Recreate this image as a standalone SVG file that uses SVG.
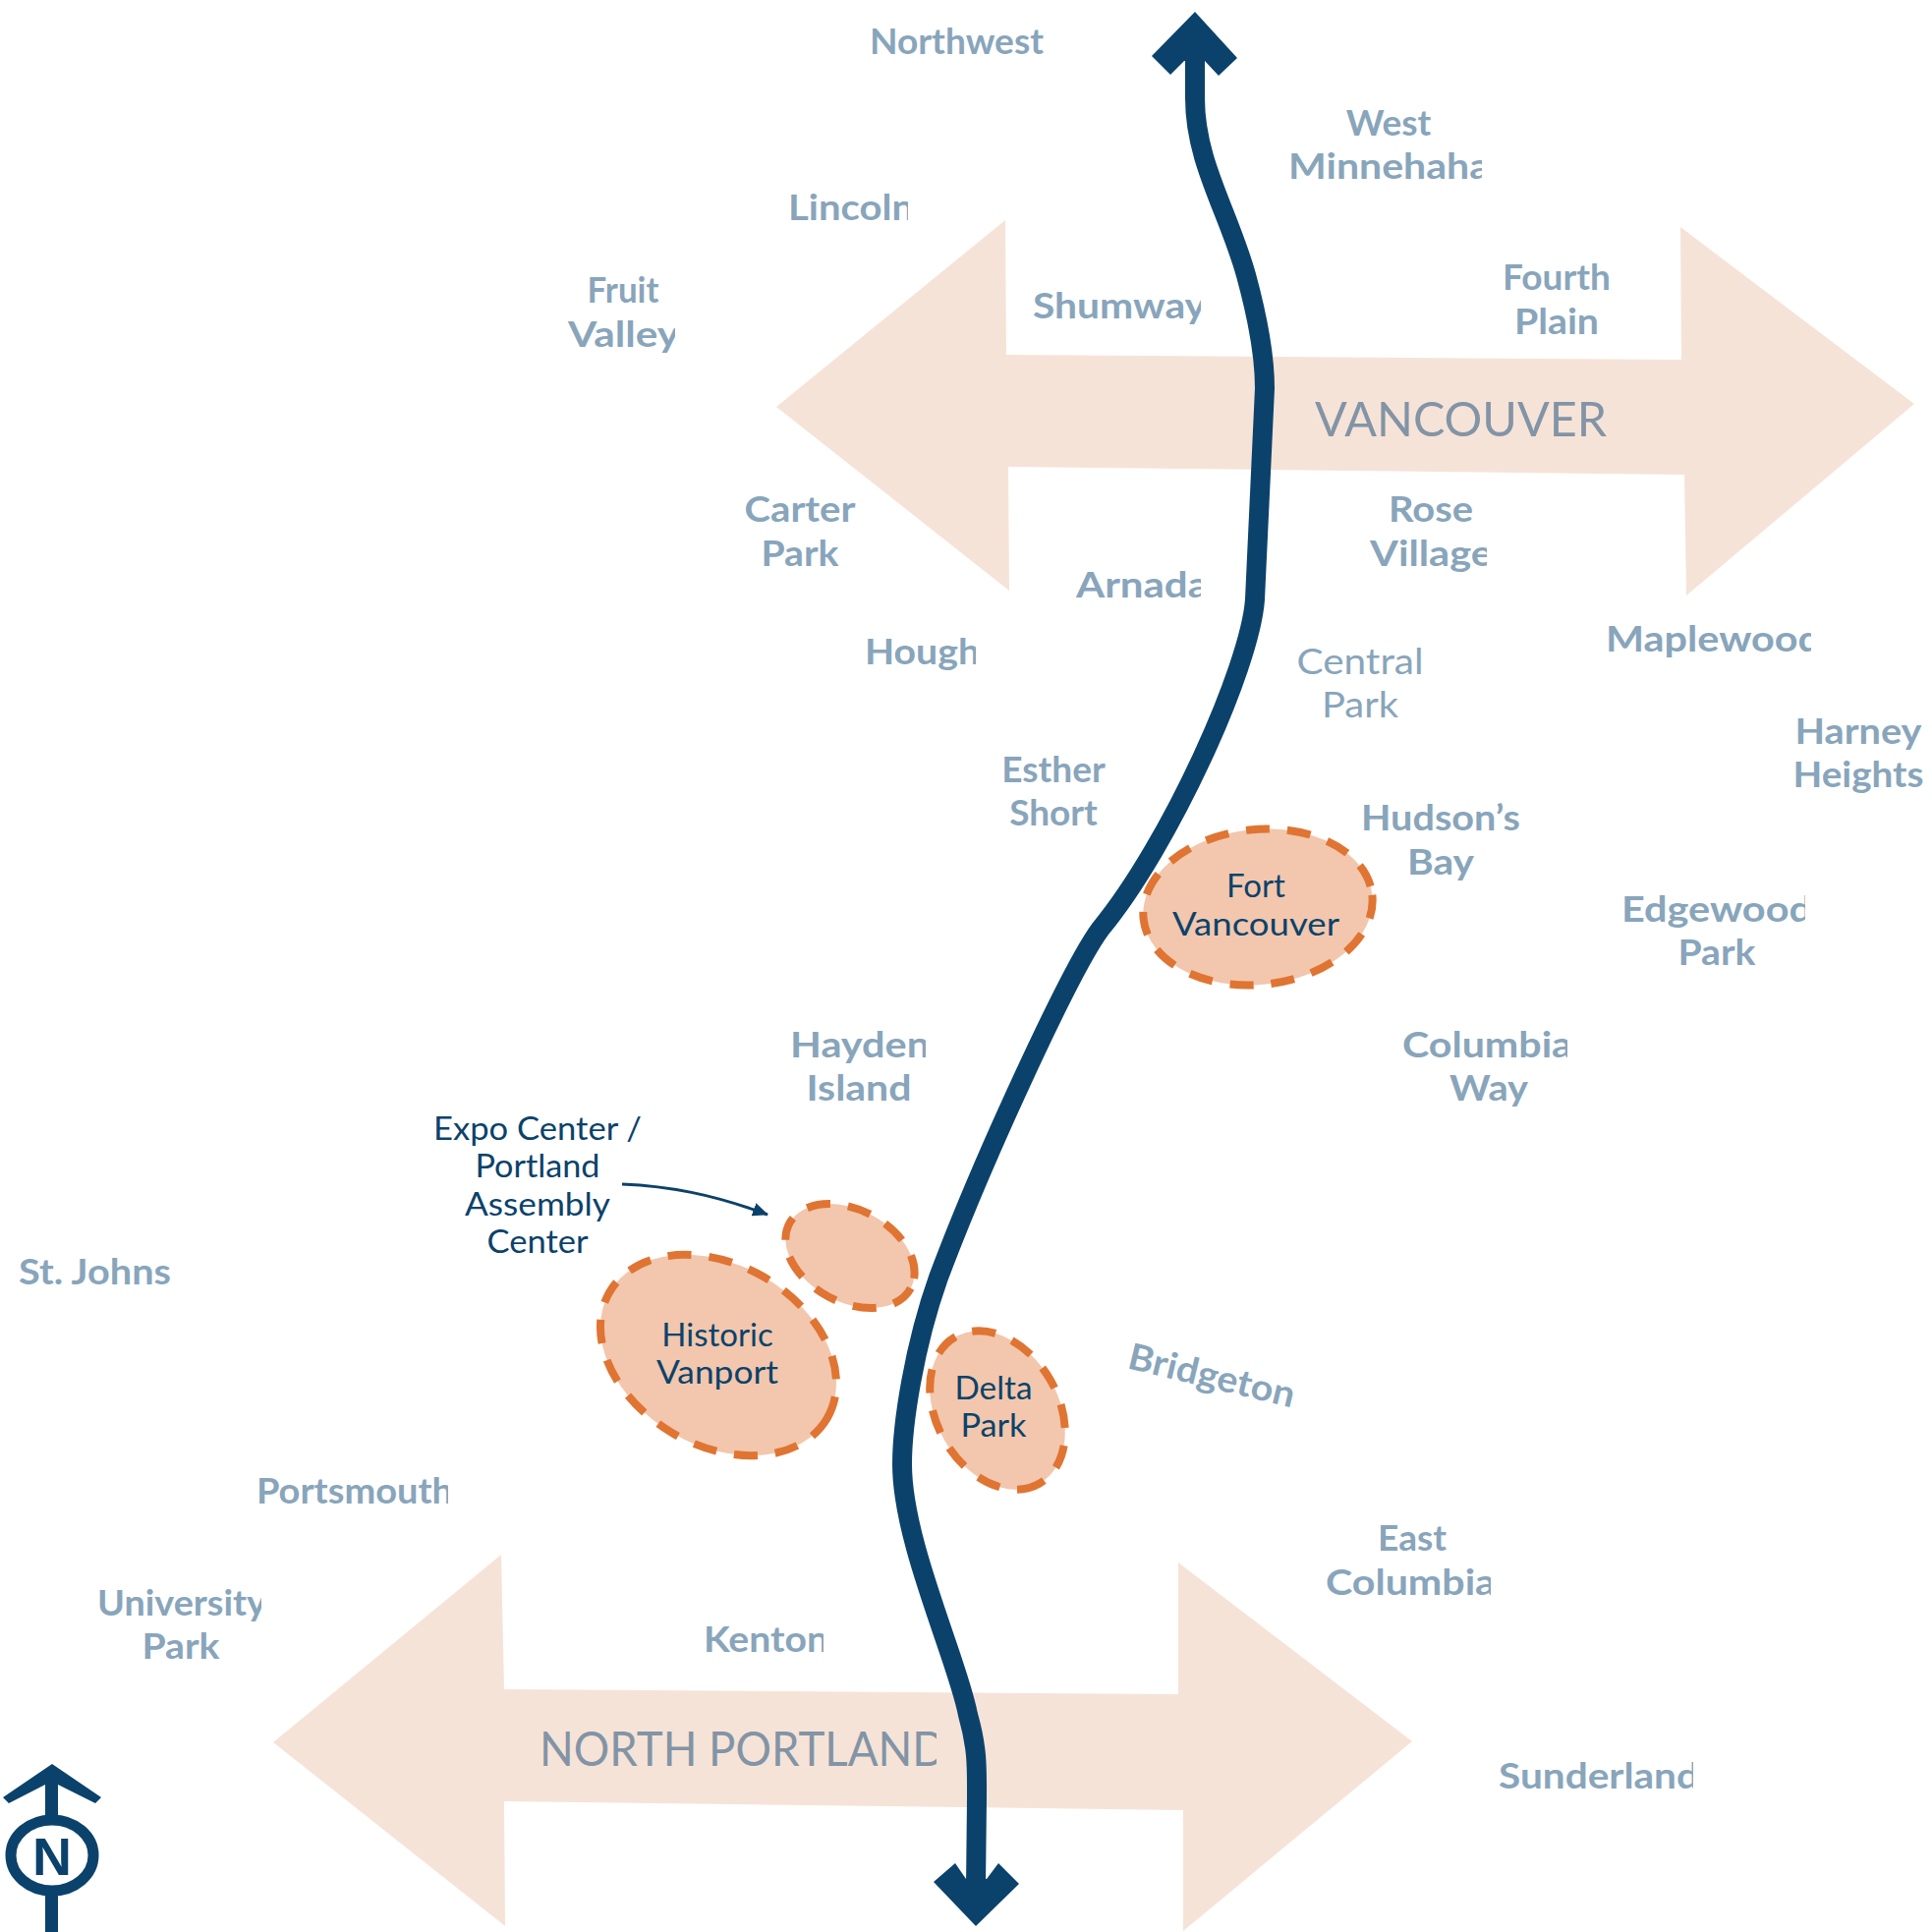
<svg xmlns="http://www.w3.org/2000/svg" width="1966" height="1966" viewBox="0 0 1966 1966">
<defs>
<style>
text{font-family:"Lato","Liberation Sans",sans-serif}
.n{font-size:37px;font-weight:700;fill:#88a5bb}
.m{text-anchor:middle}
.b{font-size:33px;font-weight:400;fill:#0b426b;text-anchor:middle}
.r{font-size:48px;font-weight:400;fill:#8294a5}
.a{fill:#f6e3d8}
.s{fill:#f2c7ad;stroke:#e07432;stroke-width:8;stroke-dasharray:24 18}
.d{fill:#0b426b}
</style>
<clipPath id="c1"><rect x="1300" y="140" width="208" height="60"/></clipPath>
<clipPath id="c2"><rect x="795" y="180" width="129" height="60"/></clipPath>
<clipPath id="c3"><rect x="570" y="320" width="117" height="50"/></clipPath>
<clipPath id="c4"><rect x="1045" y="285" width="177" height="60"/></clipPath>
<clipPath id="c5"><rect x="1390" y="545" width="123" height="50"/></clipPath>
<clipPath id="c6"><rect x="1090" y="570" width="132" height="50"/></clipPath>
<clipPath id="c7"><rect x="875" y="640" width="118" height="50"/></clipPath>
<clipPath id="c8"><rect x="1630" y="625" width="213" height="50"/></clipPath>
<clipPath id="c9"><rect x="1645" y="900" width="192" height="50"/></clipPath>
<clipPath id="c10"><rect x="800" y="1040" width="142" height="50"/></clipPath>
<clipPath id="c11"><rect x="1420" y="1040" width="175" height="50"/></clipPath>
<clipPath id="c12"><rect x="255" y="1490" width="201" height="50"/></clipPath>
<clipPath id="c13"><rect x="95" y="1605" width="171" height="55"/></clipPath>
<clipPath id="c14"><rect x="1345" y="1590" width="172" height="50"/></clipPath>
<clipPath id="c15"><rect x="712" y="1645" width="126" height="50"/></clipPath>
<clipPath id="c16"><rect x="545" y="1750" width="408" height="60"/></clipPath>
<clipPath id="c17"><rect x="1520" y="1780" width="203" height="50"/></clipPath>
<marker id="ah" markerWidth="16" markerHeight="14" refX="15" refY="7" orient="auto" markerUnits="userSpaceOnUse" viewBox="0 0 16 14"><path d="M0 0L16 7L0 14z" fill="#0b426b"/></marker>
</defs>
<g id="corridors">
<polygon id="vancouver-arrow" class="a" points="790,414 1023,224 1024,361 1711,366 1710,231 1948,411 1716,606 1714,483 1026,475 1027,601"/>
<polygon id="portland-arrow" class="a" points="278,1773 510,1582 513,1719 1199,1724 1199,1590 1437,1772 1204,1965 1204,1842 513,1833 514,1960"/>
</g>
<g id="connectors">
<path id="river" d="M1216 60V100C1216 165 1250 215 1268 280C1283 335 1287 370 1287 395L1277 610C1272 680 1190 860 1120 945C1090 985 1000 1180 955 1300C930 1370 918 1450 918 1490C918 1570 975 1690 985 1745C995 1780 994 1800 994 1830L993 1920" fill="none" stroke="#0b426b" stroke-width="20"/>
<polygon class="d" points="1216,12 1259,59 1240,77 1226,62 1205,62 1191,76 1172,57"/>
<polygon class="d" points="993,1960 950,1915 972,1896 983,1912 1004,1912 1016,1896 1037,1917"/>
<path id="expo-leader" d="M633 1205C680 1207 725 1215 781 1236" fill="none" stroke="#0b426b" stroke-width="3" marker-end="url(#ah)"/>
</g>
<g id="fort-vancouver"><ellipse class="s" cx="1280" cy="923" rx="117" ry="79" transform="rotate(-6 1280 923)"/><text class="b" x="1278" y="913">Fort</text><text class="b" x="1278" y="952" textLength="170" lengthAdjust="spacingAndGlyphs">Vancouver</text></g>
<g id="historic-vanport"><ellipse class="s" cx="731" cy="1379" rx="128" ry="92" transform="rotate(30 731 1379)"/><text class="b" x="730" y="1370">Historic</text><text class="b" x="730" y="1408" textLength="124" lengthAdjust="spacingAndGlyphs">Vanport</text></g>
<g id="expo-center"><ellipse class="s" cx="865" cy="1278" rx="70" ry="47" transform="rotate(28 865 1278)"/><text class="b" x="547" y="1160" textLength="212" lengthAdjust="spacingAndGlyphs">Expo Center /</text><text class="b" x="547" y="1198" textLength="127" lengthAdjust="spacingAndGlyphs">Portland</text><text class="b" x="547" y="1237" textLength="148" lengthAdjust="spacingAndGlyphs">Assembly</text><text class="b" x="547" y="1275" textLength="103" lengthAdjust="spacingAndGlyphs">Center</text></g>
<g id="delta-park"><ellipse class="s" cx="1015" cy="1435" rx="86" ry="62" transform="rotate(60 1015 1435)"/><text class="b" x="1011" y="1424" textLength="79" lengthAdjust="spacingAndGlyphs">Delta</text><text class="b" x="1011" y="1462" textLength="67" lengthAdjust="spacingAndGlyphs">Park</text></g>
<g id="compass">
<rect class="d" x="46" y="1810" width="13" height="156"/>
<polygon class="d" points="53,1795 103,1829 97,1835 59,1816 46,1816 9,1835 3,1829"/>
<ellipse cx="53" cy="1888" rx="42" ry="36" fill="#fff" stroke="#0b426b" stroke-width="11"/>
<text x="53" y="1908" text-anchor="middle" textLength="40" lengthAdjust="spacingAndGlyphs" style="font-family:'Liberation Sans',sans-serif;font-size:54px;font-weight:700;fill:#0b426b">N</text>
</g>
<g id="vancouver-label"><text class="r" x="1338" y="444" textLength="297" lengthAdjust="spacingAndGlyphs">VANCOUVER</text></g>
<g id="portland-label"><text class="r" x="549" y="1797" clip-path="url(#c16)" textLength="414" lengthAdjust="spacingAndGlyphs">NORTH PORTLAND</text></g>
<g id="neighborhoods">
<g id="northwest"><text class="n" x="885" y="55" textLength="177" lengthAdjust="spacingAndGlyphs">Northwest</text></g>
<g id="west-minnehaha"><text class="n m" x="1413" y="138">West</text><text class="n" x="1311" y="182" clip-path="url(#c1)" textLength="205" lengthAdjust="spacingAndGlyphs">Minnehaha</text></g>
<g id="lincoln"><text class="n" x="802" y="224" clip-path="url(#c2)" textLength="128" lengthAdjust="spacingAndGlyphs">Lincoln</text></g>
<g id="fruit-valley"><text class="n m" x="634" y="308" textLength="73" lengthAdjust="spacingAndGlyphs">Fruit</text><text class="n" x="578" y="353" clip-path="url(#c3)" textLength="113" lengthAdjust="spacingAndGlyphs">Valley</text></g>
<g id="shumway"><text class="n" x="1051" y="324" clip-path="url(#c4)" textLength="176" lengthAdjust="spacingAndGlyphs">Shumway</text></g>
<g id="fourth-plain"><text class="n m" x="1584" y="295">Fourth</text><text class="n m" x="1584" y="340" textLength="86" lengthAdjust="spacingAndGlyphs">Plain</text></g>
<g id="carter-park"><text class="n m" x="814" y="531" textLength="113" lengthAdjust="spacingAndGlyphs">Carter</text><text class="n m" x="814" y="576" textLength="79" lengthAdjust="spacingAndGlyphs">Park</text></g>
<g id="rose-village"><text class="n m" x="1456" y="531" textLength="86" lengthAdjust="spacingAndGlyphs">Rose</text><text class="n" x="1394" y="576" clip-path="url(#c5)" textLength="125" lengthAdjust="spacingAndGlyphs">Village</text></g>
<g id="arnada"><text class="n" x="1095" y="608" clip-path="url(#c6)" textLength="135" lengthAdjust="spacingAndGlyphs">Arnada</text></g>
<g id="hough"><text class="n" x="880" y="676" clip-path="url(#c7)" textLength="117" lengthAdjust="spacingAndGlyphs">Hough</text></g>
<g id="central-park"><text class="n m" style="font-weight:400" x="1384" y="686" textLength="129" lengthAdjust="spacingAndGlyphs">Central</text><text class="n m" style="font-weight:400" x="1384" y="730" textLength="78" lengthAdjust="spacingAndGlyphs">Park</text></g>
<g id="maplewood"><text class="n" x="1634" y="663" clip-path="url(#c8)" textLength="219" lengthAdjust="spacingAndGlyphs">Maplewood</text></g>
<g id="harney-heights"><text class="n m" x="1891" y="757" textLength="129" lengthAdjust="spacingAndGlyphs">Harney</text><text class="n m" x="1891" y="801" textLength="133" lengthAdjust="spacingAndGlyphs">Heights</text></g>
<g id="esther-short"><text class="n m" x="1072" y="796">Esther</text><text class="n m" x="1072" y="840">Short</text></g>
<g id="hudsons-bay"><text class="n m" x="1466" y="845" textLength="162" lengthAdjust="spacingAndGlyphs">Hudson’s</text><text class="n m" x="1466" y="890" textLength="68" lengthAdjust="spacingAndGlyphs">Bay</text></g>
<g id="edgewood-park"><text class="n" x="1650" y="938" clip-path="url(#c9)" textLength="194" lengthAdjust="spacingAndGlyphs">Edgewood</text><text class="n m" x="1747" y="982" textLength="79" lengthAdjust="spacingAndGlyphs">Park</text></g>
<g id="hayden-island"><text class="n" x="804" y="1076" clip-path="url(#c10)" textLength="142" lengthAdjust="spacingAndGlyphs">Hayden</text><text class="n m" x="874" y="1120" textLength="107" lengthAdjust="spacingAndGlyphs">Island</text></g>
<g id="columbia-way"><text class="n" x="1427" y="1076" clip-path="url(#c11)" textLength="173" lengthAdjust="spacingAndGlyphs">Columbia</text><text class="n m" x="1515" y="1120" textLength="80" lengthAdjust="spacingAndGlyphs">Way</text></g>
<g id="st-johns"><text class="n" x="19" y="1307" textLength="155" lengthAdjust="spacingAndGlyphs">St. Johns</text></g>
<g id="bridgeton"><text class="n" transform="translate(1146 1392) rotate(13.5)" textLength="173" lengthAdjust="spacingAndGlyphs">Bridgeton</text></g>
<g id="portsmouth"><text class="n" x="261" y="1530" clip-path="url(#c12)" textLength="200" lengthAdjust="spacingAndGlyphs">Portsmouth</text></g>
<g id="university-park"><text class="n" x="99" y="1644" clip-path="url(#c13)" textLength="172" lengthAdjust="spacingAndGlyphs">University</text><text class="n m" x="184" y="1688" textLength="79" lengthAdjust="spacingAndGlyphs">Park</text></g>
<g id="east-columbia"><text class="n m" x="1437" y="1578">East</text><text class="n" x="1349" y="1623" clip-path="url(#c14)" textLength="173" lengthAdjust="spacingAndGlyphs">Columbia</text></g>
<g id="kenton"><text class="n" x="716" y="1681" clip-path="url(#c15)" textLength="127" lengthAdjust="spacingAndGlyphs">Kenton</text></g>
<g id="sunderland"><text class="n" x="1525" y="1820" clip-path="url(#c17)" textLength="204" lengthAdjust="spacingAndGlyphs">Sunderland</text></g>
</g>
</svg>
